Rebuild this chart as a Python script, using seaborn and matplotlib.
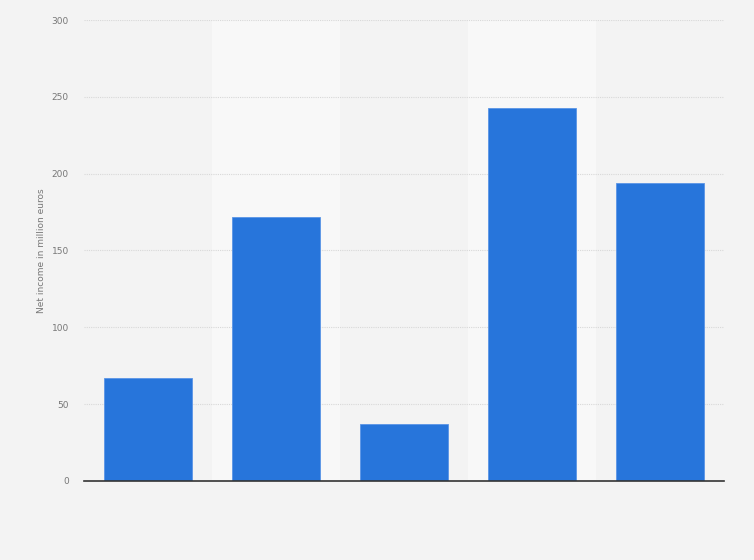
import matplotlib
matplotlib.use("Agg")
import matplotlib.pyplot as plt
import seaborn as sns
import pandas as pd

categories = ["2015", "2016", "2017", "2018", "2019"]
values = [67, 172, 37, 243, 194]
y_ticks = [0, 50, 100, 150, 200, 250, 300]
y_label = "Net income in million euros"

sns.set_theme(style="white")
plt.rcParams['font.family'] = ['DejaVu Sans']

df = pd.DataFrame({"category": categories, "value": values})

fig = plt.figure(figsize=(7.54, 5.60), dpi=100)
fig.patch.set_facecolor("#f3f3f3")
ax = fig.add_axes([84/754, 79/560, 640/754, 461/560])
ax.set_facecolor("#f3f3f3")

for i in range(len(categories)):
    if i % 2 == 1:
        ax.axvspan(i - 0.5, i + 0.5, color="#f8f8f8", zorder=0, lw=0)

for t in y_ticks[1:]:
    ax.axhline(t, color="#d8d8d8", lw=0.8, ls=(0, (1, 1)), zorder=1)

sns.barplot(data=df, x="category", y="value", color="#2775db", saturation=1,
            width=0.69, edgecolor="#5a95e6", linewidth=0.6, ax=ax, zorder=2)

ax.set_xlim(-0.5, len(categories) - 0.5)
ax.set_ylim(0, 300)
ax.set_yticks(y_ticks)
ax.set_yticklabels([str(t) for t in y_ticks], fontsize=6.5, color="#777777")
ax.tick_params(axis="y", length=0, pad=11)
ax.set_xticks([])
ax.set_xlabel("")
ax.set_ylabel(y_label, fontsize=6.5, color="#777777", labelpad=4)
for s in ["top", "right", "left"]:
    ax.spines[s].set_visible(False)
ax.spines["bottom"].set_color("#333333")
ax.spines["bottom"].set_linewidth(1.2)
ax.spines["bottom"].set_zorder(3)

fig.savefig("out.png", dpi=100, facecolor=fig.get_facecolor())
